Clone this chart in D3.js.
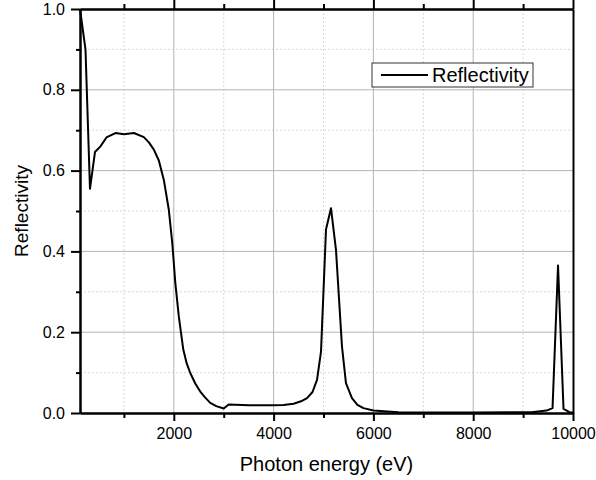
<!DOCTYPE html>
<html>
<head>
<meta charset="utf-8">
<script src="https://cdn.jsdelivr.net/npm/d3@7"></script>
<style>
  body { margin: 0; background: #fff; }
  svg { display: block; font-family: Arial, "Liberation Sans", sans-serif; }
  .axis path, .axis line { stroke: #000; stroke-width: 2; }
  .axis text { font-size: 16px; fill: #000; }
  .grid-major line { stroke: #b4b4b4; stroke-width: 1; }
  .grid-minor line { stroke: #d8d8d8; stroke-width: 1; stroke-dasharray: 2,2; }
</style>
</head>
<body>
<svg id="chart" width="596" height="480"></svg>
<script>
// Reflectivity vs photon energy
const energy = [120, 230, 320, 420, 530, 650, 830, 1000, 1200, 1400, 1500, 1600, 1700, 1800, 1900, 1970, 2030,
  2100, 2190, 2260, 2330, 2430, 2530, 2630, 2730, 2850, 3000, 3100, 3500, 4000, 4200, 4400, 4550, 4670, 4780,
  4870, 4950, 5050, 5150, 5250, 5370, 5450, 5570, 5680, 5800, 6000, 6500, 7000, 8000, 9170, 9470, 9590, 9700,
  9810, 9930, 10000];
const reflectivity = [1.0, 0.90, 0.555, 0.646, 0.66, 0.682, 0.693, 0.690, 0.693, 0.683, 0.670, 0.652, 0.625,
  0.577, 0.503, 0.42, 0.322, 0.239, 0.157, 0.122, 0.099, 0.073, 0.053, 0.038, 0.025, 0.017, 0.011, 0.021,
  0.019, 0.019, 0.020, 0.023, 0.029, 0.037, 0.052, 0.082, 0.152, 0.454, 0.507, 0.404, 0.165, 0.074, 0.037,
  0.020, 0.012, 0.006, 0.002, 0.001, 0.001, 0.002, 0.006, 0.012, 0.365, 0.010, 0.002, 0.001];
const xMajor = [2000, 4000, 6000, 8000, 10000];
const xMinor = [1000, 3000, 5000, 7000, 9000];
const yMajor = [0, 0.2, 0.4, 0.6, 0.8, 1.0];
const yMinor = [0.1, 0.3, 0.5, 0.7, 0.9];
const seriesName = "Reflectivity";

const svg = d3.select("#chart");
const pL = 80, pR = 573, pT = 9, pB = 413;
const x = d3.scaleLinear().domain([120, 10000]).range([pL, pR]);
const y = d3.scaleLinear().domain([0, 1]).range([pB, pT]);

// grid
svg.append("g").attr("class", "grid-minor").selectAll("line").data(xMinor).join("line")
  .attr("x1", d => x(d)).attr("x2", d => x(d)).attr("y1", pT).attr("y2", pB);
svg.append("g").attr("class", "grid-minor").selectAll("line").data(yMinor).join("line")
  .attr("x1", pL).attr("x2", pR).attr("y1", d => y(d)).attr("y2", d => y(d));
svg.append("g").attr("class", "grid-major").selectAll("line").data(xMajor.slice(0, -1)).join("line")
  .attr("x1", d => x(d)).attr("x2", d => x(d)).attr("y1", pT).attr("y2", pB);
svg.append("g").attr("class", "grid-major").selectAll("line").data(yMajor.slice(1, -1)).join("line")
  .attr("x1", pL).attr("x2", pR).attr("y1", d => y(d)).attr("y2", d => y(d));

// curve
const pts = energy.map((e, i) => [e, reflectivity[i]]);
svg.append("path").datum(pts)
  .attr("fill", "none").attr("stroke", "#000").attr("stroke-width", 2).attr("stroke-linejoin", "round")
  .attr("d", d3.line().x(d => x(d[0])).y(d => y(d[1])));

// axes
svg.append("g").attr("class", "axis").attr("transform", `translate(0,${pB})`)
  .call(d3.axisBottom(x).tickValues(xMinor).tickSize(5).tickSizeOuter(0).tickFormat(""));
svg.append("g").attr("class", "axis").attr("transform", `translate(0,${pB})`)
  .call(d3.axisBottom(x).tickValues(xMajor).tickSize(8).tickSizeOuter(0).tickPadding(7).tickFormat(d3.format("d")));
svg.append("g").attr("class", "axis").attr("transform", `translate(0,${pT})`)
  .call(d3.axisTop(x).tickValues(xMinor).tickSize(5).tickSizeOuter(0).tickFormat(""));
svg.append("g").attr("class", "axis").attr("transform", `translate(0,${pT})`)
  .call(d3.axisTop(x).tickValues(xMajor).tickSize(9).tickSizeOuter(0).tickFormat(""));
svg.append("g").attr("class", "axis").attr("transform", `translate(${pL},0)`)
  .call(d3.axisLeft(y).tickValues(yMinor).tickSize(4).tickSizeOuter(0).tickFormat(""));
svg.append("g").attr("class", "axis").attr("transform", `translate(${pL},0)`)
  .call(d3.axisLeft(y).tickValues(yMajor).tickSize(9).tickSizeOuter(0).tickPadding(6).tickFormat(d3.format(".1f")));
svg.append("g").attr("class", "axis").attr("transform", `translate(${pR},0)`)
  .call(d3.axisRight(y).tickValues([]).tickSizeOuter(0));

// titles
svg.append("text").attr("x", (pL + pR) / 2).attr("y", 471).attr("text-anchor", "middle")
  .attr("font-size", 20).text("Photon energy (eV)");
svg.append("text").attr("transform", `translate(28,${(pT + pB) / 2}) rotate(-90)`)
  .attr("text-anchor", "middle").attr("font-size", 19).text("Reflectivity");

// legend
const lg = svg.append("g").attr("transform", "translate(372,63)");
lg.append("rect").attr("width", 161).attr("height", 24).attr("fill", "#fff")
  .attr("stroke", "#333").attr("stroke-width", 1);
lg.append("line").attr("x1", 9).attr("x2", 56).attr("y1", 12).attr("y2", 12)
  .attr("stroke", "#000").attr("stroke-width", 2);
lg.append("text").attr("x", 60).attr("y", 19).attr("font-size", 20).text(seriesName);
</script>
</body>
</html>
